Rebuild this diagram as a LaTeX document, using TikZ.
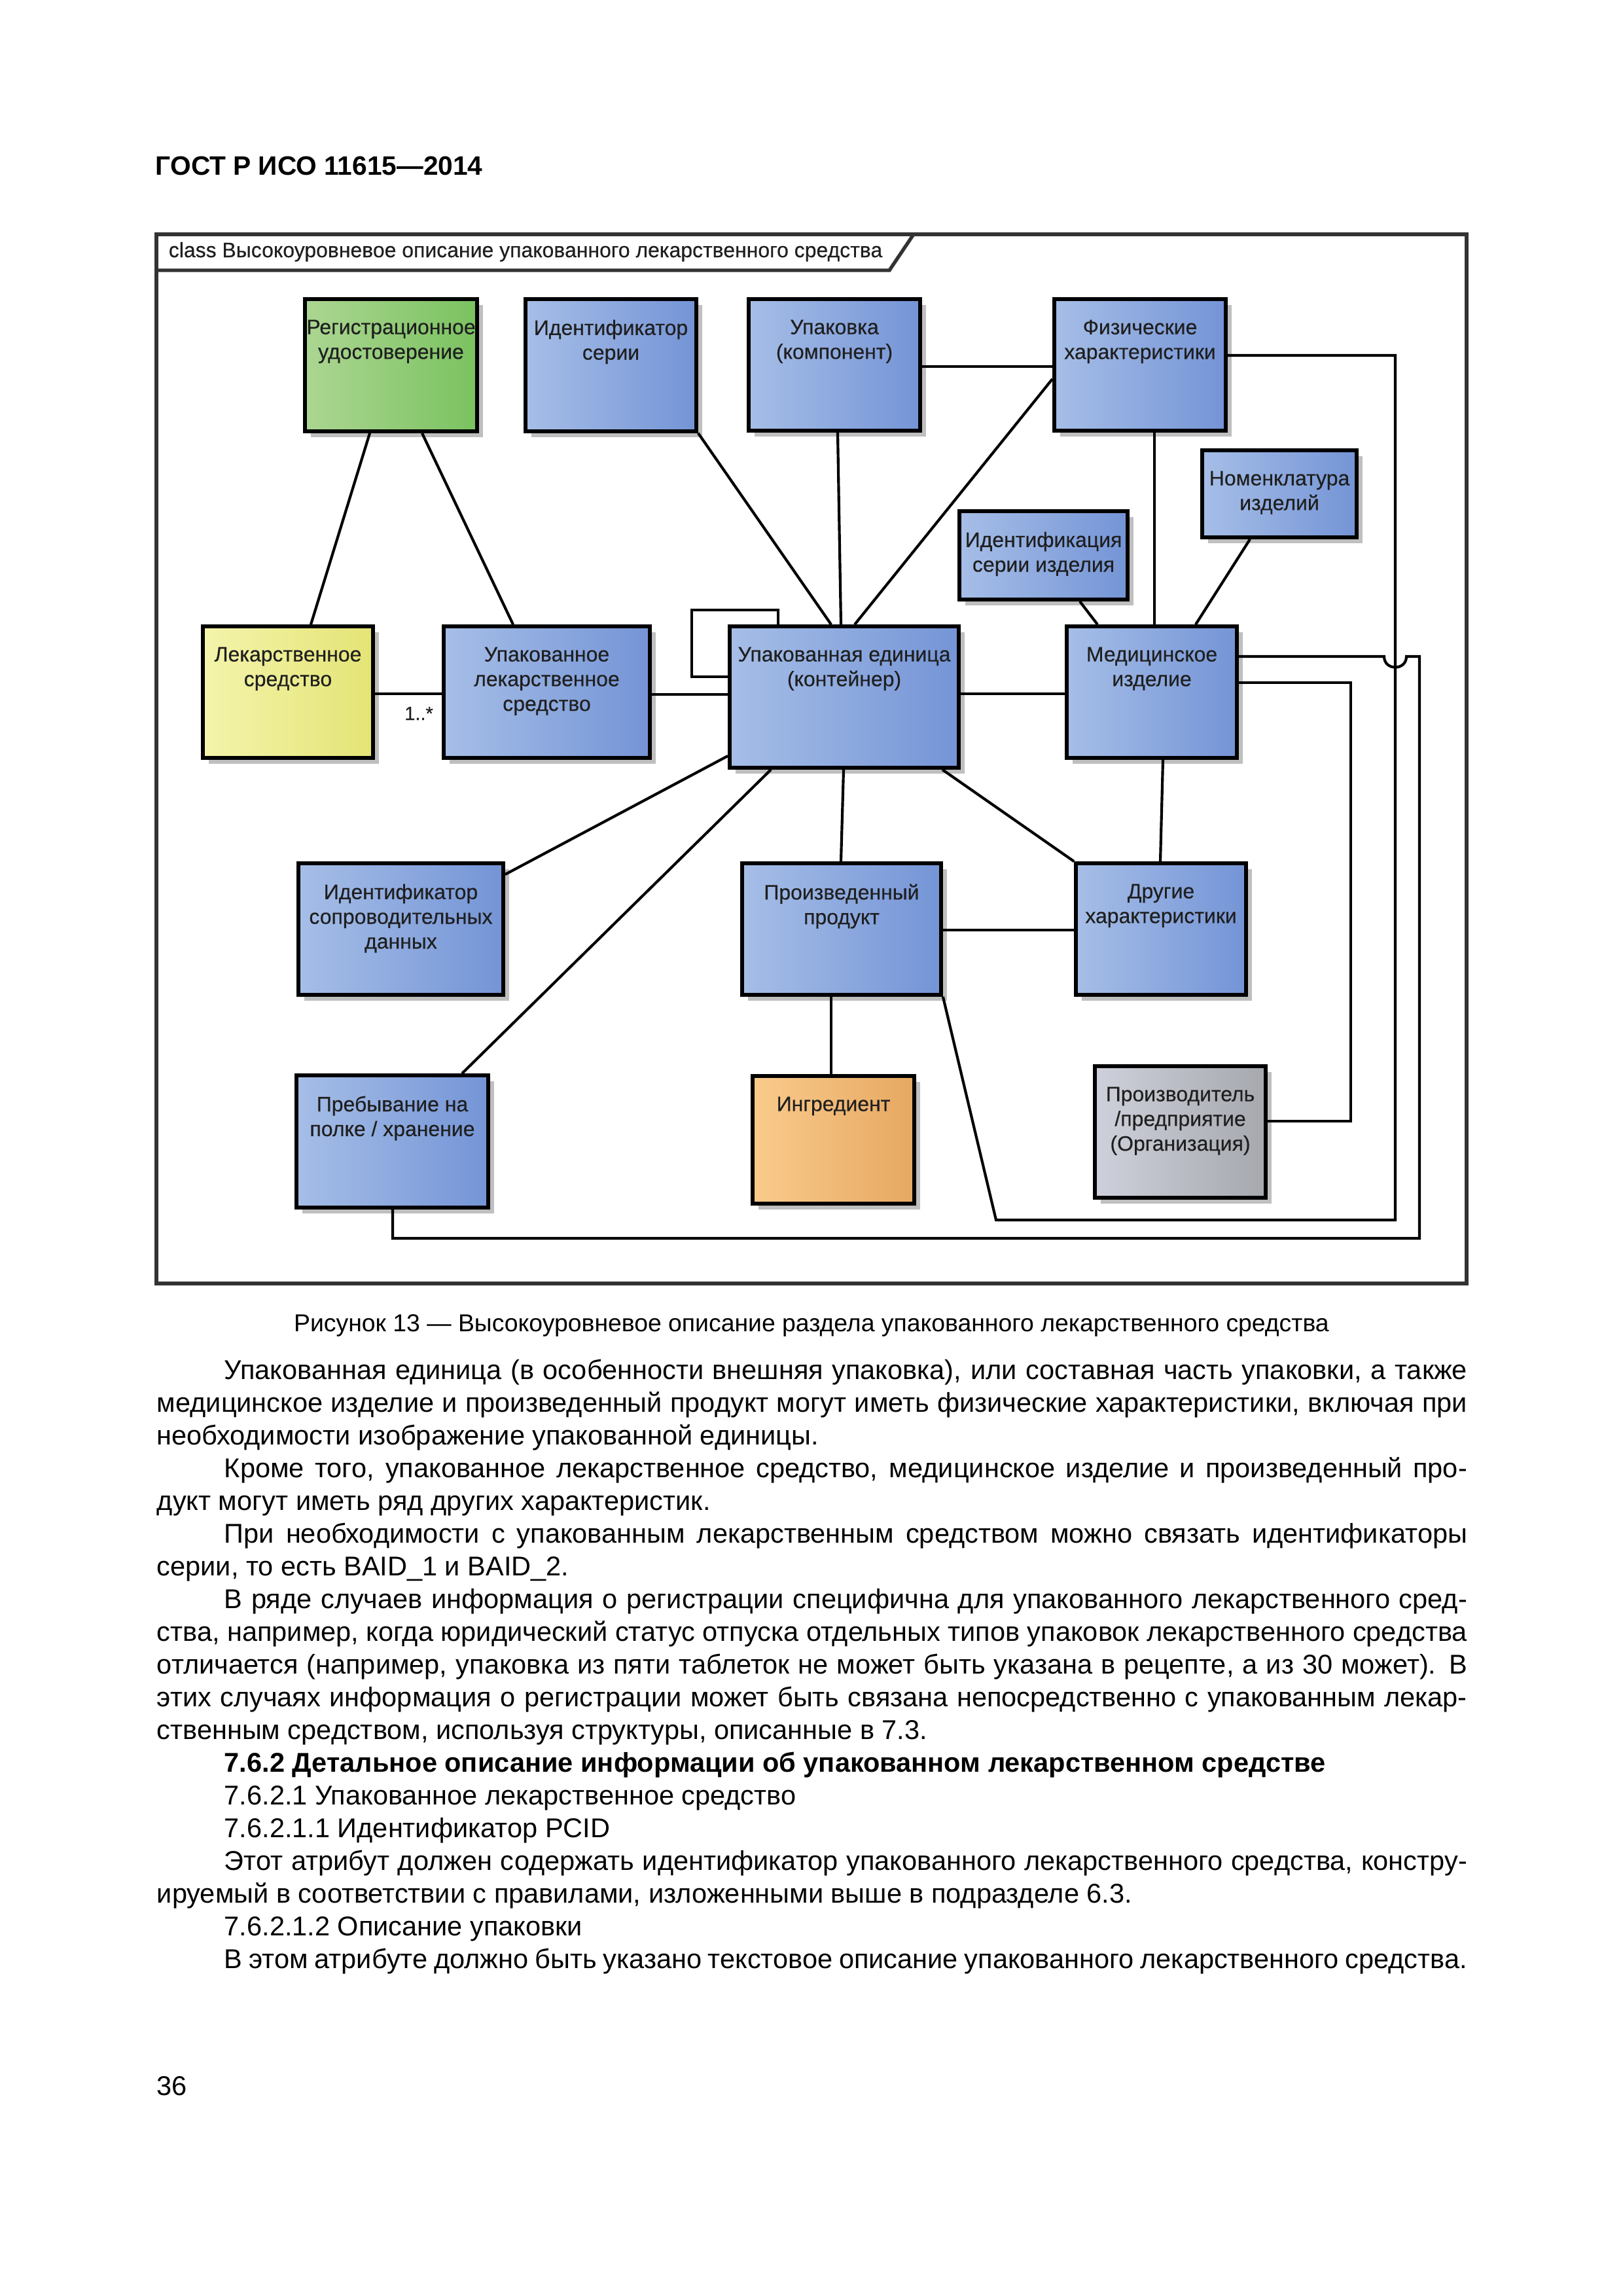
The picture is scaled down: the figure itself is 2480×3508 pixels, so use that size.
\documentclass[tikz,border=0pt]{standalone}
\usepackage{fontspec}
\setmainfont{Liberation Sans}
\newfontfamily\diafont[FakeBold=0.4]{Liberation Sans}
\usetikzlibrary{
  fit,
  shadows}

\definecolor{blueL}{RGB}{166,190,231}
\definecolor{blueM}{RGB}{176,201,237}
\definecolor{blueR}{RGB}{116,148,214}
\definecolor{greenL}{RGB}{172,214,146}
\definecolor{greenR}{RGB}{122,194,96}
\definecolor{yelL}{RGB}{244,244,172}
\definecolor{yelR}{RGB}{228,228,118}
\definecolor{orL}{RGB}{250,203,140}
\definecolor{orR}{RGB}{230,168,98}
\definecolor{grL}{RGB}{206,209,219}
\definecolor{grR}{RGB}{166,168,174}

\newcommand\fullline[1]{\makebox[169.5mm][s]{#1}}
\newcommand\indline[1]{\makebox[160.8mm][s]{#1}}

\tikzset{
  box/.style={draw=black, line width=1.4pt, inner sep=0pt,
    drop shadow={shadow xshift=0.8mm, shadow yshift=-0.8mm, fill=black!25, opacity=1}},
  bluebox/.style={box, left color=blueL, middle color=blueM, right color=blueR},
  greenbox/.style={box, left color=greenL, middle color=greenL!70!white, right color=greenR},
  yelbox/.style={box, left color=yelL, middle color=yelL!70!white, right color=yelR},
  orbox/.style={box, left color=orL, middle color=orL!80!white, right color=orR},
  graybox/.style={box, left color=grL, middle color=grL!80!white, right color=grR},
  txt/.style={font=\diafont\fontsize{7.7}{9.1}\selectfont, text=black!88, align=center, inner sep=0pt, anchor=north},
  assoc/.style={line width=1pt},
  body/.style={font=\fontsize{10}{12}\selectfont, inner sep=0pt, anchor=base west},
}

\begin{document}
\begin{tikzpicture}[x=0.0846774mm, y=-0.0846774mm]
\useasboundingbox (0,0) rectangle (2480,3508);
\fill[white] (0,0) rectangle (2480,3508);

\node[font=\bfseries\fontsize{9.8}{12}\selectfont, inner sep=0pt, anchor=base west] (head) at (237,267) {ГОСТ Р ИСО 11615—2014};

% frame
\draw[black!80, line width=1.3pt] (239,358) rectangle (2241,1961);
\draw[black!80, line width=1.3pt] (239,413) -- (1359,413) -- (1396,358);
\node[txt, anchor=base west, align=left] (title) at (257,393) {class Высокоуровневое описание упакованного лекарственного средства};

% classes
\node[greenbox, fit={(466,457) (729,659)}] (reg) {};
\node[bluebox, fit={(803,457) (1064,659)}] (serie) {};
\node[bluebox, fit={(1144,457) (1406,658)}] (pack) {};
\node[bluebox, fit={(1611,457) (1873,658)}] (phys) {};
\node[bluebox, fit={(1837,688) (2073,821)}] (nomen) {};
\node[bluebox, fit={(1466,781) (1723,916)}] (devser) {};
\node[yelbox, fit={(310,957) (570,1158)}] (drug) {};
\node[bluebox, fit={(678,957) (993,1158)}] (pmp) {};
\node[bluebox, fit={(1115,957) (1465,1173)}] (unit) {};
\node[bluebox, fit={(1630,957) (1890,1158)}] (dev) {};
\node[bluebox, fit={(456,1319) (769,1520)}] (data) {};
\node[bluebox, fit={(1134,1319) (1438,1520)}] (manu) {};
\node[bluebox, fit={(1644,1319) (1904,1520)}] (other) {};
\node[bluebox, fit={(453,1643) (746,1845)}] (shelf) {};
\node[orbox, fit={(1150,1644) (1397,1839)}] (ingr) {};
\node[graybox, fit={(1673,1629) (1934,1830)}] (org) {};

\node[txt] (reg-t) at ([yshift=-2.85mm]reg.north) {Регистрационное\\удостоверение};
\node[txt] (serie-t) at ([yshift=-2.85mm]serie.north) {Идентификатор\\серии};
\node[txt] (pack-t) at ([yshift=-2.85mm]pack.north) {Упаковка\\(компонент)};
\node[txt] (phys-t) at ([yshift=-2.85mm]phys.north) {Физические\\характеристики};
\node[txt] (nomen-t) at ([yshift=-2.85mm]nomen.north) {Номенклатура\\изделий};
\node[txt] (devser-t) at ([yshift=-2.85mm]devser.north) {Идентификация\\серии изделия};
\node[txt] (drug-t) at ([yshift=-2.85mm]drug.north) {Лекарственное\\средство};
\node[txt] (pmp-t) at ([yshift=-2.85mm]pmp.north) {Упакованное\\лекарственное\\средство};
\node[txt] (unit-t) at ([yshift=-2.85mm]unit.north) {Упакованная единица\\(контейнер)};
\node[txt] (dev-t) at ([yshift=-2.85mm]dev.north) {Медицинское\\изделие};
\node[txt] (data-t) at ([yshift=-2.85mm]data.north) {Идентификатор\\сопроводительных\\данных};
\node[txt] (manu-t) at ([yshift=-2.85mm]manu.north) {Произведенный\\продукт};
\node[txt] (other-t) at ([yshift=-2.85mm]other.north) {Другие\\характеристики};
\node[txt] (shelf-t) at ([yshift=-2.85mm]shelf.north) {Пребывание на\\полке / хранение};
\node[txt] (ingr-t) at ([yshift=-2.85mm]ingr.north) {Ингредиент};
\node[txt] (org-t) at ([yshift=-2.85mm]org.north) {Производитель\\/предприятие\\(Организация)};

% associations
\draw[assoc] (565,0 |- reg.south) -- (475,0 |- drug.north);
\draw[assoc] (645,0 |- reg.south) -- (784,0 |- pmp.north);
\draw[assoc] (drug.east |- 0,1060) -- (pmp.west |- 0,1060);
\node[txt, anchor=center, font=\diafont\fontsize{7}{8}\selectfont] (mult) at (640,1090) {1..*};
\draw[assoc] (pmp.east |- 0,1061) -- (unit.west |- 0,1061);
\draw[assoc] (unit.west |- 0,1034) -- (1057,1034) -- (1057,932) -- (1189,932) -- (1189,0 |- unit.north);
\draw[assoc] (serie.south east) -- (1270,0 |- unit.north);
\draw[assoc] (1280,0 |- pack.south) -- (1285,0 |- unit.north);
\draw[assoc] (phys.west |- 0,579) -- (1306,0 |- unit.north);
\draw[assoc] (pack.east |- 0,560) -- (phys.west |- 0,560);
\draw[assoc] (1764,0 |- phys.south) -- (1764,0 |- dev.north);
\draw[assoc] (1910,0 |- nomen.south) -- (1827,0 |- dev.north);
\draw[assoc] (1650,0 |- devser.south) -- (1677,0 |- dev.north);
\draw[assoc] (unit.east |- 0,1060) -- (dev.west |- 0,1060);
\draw[assoc] (unit.west |- 0,1155) -- (data.east |- 0,1336);
\draw[assoc] (1178,0 |- unit.south) -- (706,0 |- shelf.north);
\draw[assoc] (1289,0 |- unit.south) -- (1285,0 |- manu.north);
\draw[assoc] (1440,0 |- unit.south) -- (other.north west);
\draw[assoc] (1777,0 |- dev.south) -- (1773,0 |- other.north);
\draw[assoc] (manu.east |- 0,1421) -- (other.west |- 0,1421);
\draw[assoc] (1270,0 |- manu.south) -- (1270,0 |- ingr.north);
\draw[assoc] (phys.east |- 0,543) -- (2132,543) -- (2132,1864) -- (1522,1864) -- (manu.south east);
\draw[assoc] (dev.east |- 0,1003) -- (2115,1003) .. controls (2115,1025) and (2149,1025) .. (2149,1003)
  -- (2169,1003) -- (2169,1892) -- (600,1892) -- (600,0 |- shelf.south);
\draw[assoc] (dev.east |- 0,1043) -- (2064,1043) -- (2064,1713) -- (org.east |- 0,1713);

% caption and text
\node[font=\fontsize{9}{11}\selectfont, inner sep=0pt, anchor=base] (caption) at (1240,2034) {Рисунок 13 — Высокоуровневое описание раздела упакованного лекарственного средства};

\node[body] (l1) at (342,2107) {\indline{Упакованная единица (в особенности внешняя упаковка), или составная часть упаковки, а также}};
\node[body] (l2) at (239,2157) {\fullline{медицинское изделие и произведенный продукт могут иметь физические характеристики, включая при}};
\node[body] (l3) at (239,2207) {необходимости изображение упакованной единицы.};
\node[body] (l4) at (342,2257) {\indline{Кроме того, упакованное лекарственное средство, медицинское изделие и произведенный про-}};
\node[body] (l5) at (239,2307) {дукт могут иметь ряд других характеристик.};
\node[body] (l6) at (342,2357) {\indline{При необходимости с упакованным лекарственным средством можно связать идентификаторы}};
\node[body] (l7) at (239,2407) {серии, то есть BAID\_1 и BAID\_2.};
\node[body] (l8) at (342,2457) {\indline{В ряде случаев информация о регистрации специфична для упакованного лекарственного сред-}};
\node[body] (l9) at (239,2507) {\fullline{ства, например, когда юридический статус отпуска отдельных типов упаковок лекарственного средства}};
\node[body] (l10) at (239,2557) {\fullline{отличается (например, упаковка из пяти таблеток не может быть указана в рецепте, а из 30 может). В}};
\node[body] (l11) at (239,2607) {\fullline{этих случаях информация о регистрации может быть связана непосредственно с упакованным лекар-}};
\node[body] (l12) at (239,2657) {ственным средством, используя структуры, описанные в 7.3.};
\node[body, font=\bfseries\fontsize{10}{12}\selectfont] (l13) at (342,2707) {7.6.2 Детальное описание информации об упакованном лекарственном средстве};
\node[body] (l14) at (342,2757) {7.6.2.1 Упакованное лекарственное средство};
\node[body] (l15) at (342,2807) {7.6.2.1.1 Идентификатор PCID};
\node[body] (l16) at (342,2857) {\indline{Этот атрибут должен содержать идентификатор упакованного лекарственного средства, констру-}};
\node[body] (l17) at (239,2907) {ируемый в соответствии с правилами, изложенными выше в подразделе 6.3.};
\node[body] (l18) at (342,2957) {7.6.2.1.2 Описание упаковки};
\node[body] (l19) at (342,3007) {\indline{В этом атрибуте должно быть указано текстовое описание упакованного лекарственного средства.}};

\node[body] (pnum) at (239,3201) {36};
\end{tikzpicture}
\end{document}
